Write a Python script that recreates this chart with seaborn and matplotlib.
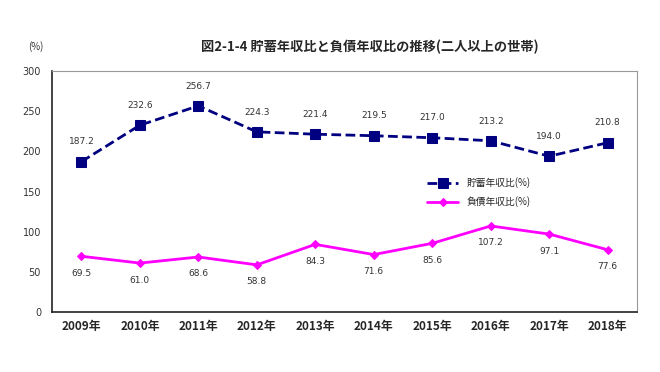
import matplotlib
matplotlib.use("Agg")
import matplotlib.pyplot as plt
import seaborn as sns
import pandas as pd
import numpy as np

years = ["2009年", "2010年", "2011年", "2012年", "2013年", "2014年", "2015年", "2016年", "2017年", "2018年"]
savings = [187.2, 232.6, 256.7, 224.3, 221.4, 219.5, 217.0, 213.2, 194.0, 210.8]
debt = [69.5, 61.0, 68.6, 58.8, 84.3, 71.6, 85.6, 107.2, 97.1, 77.6]
savings_name = "貯蓄年収比(%)"
debt_name = "負債年収比(%)"
title = "図2-1-4 貯蓄年収比と負債年収比の推移(二人以上の世帯)"

sns.set_theme(style="white")
plt.rcParams['font.family'] = ['Noto Sans CJK JP', 'DejaVu Sans']

fig = plt.figure(figsize=(6.6, 3.72), dpi=100)
ax = fig.add_axes([0.079, 0.161, 0.886, 0.648])

x = np.arange(len(years))
df = pd.DataFrame({"x": np.concatenate([x, x]),
                   "v": savings + debt,
                   "s": [savings_name] * len(x) + [debt_name] * len(x)})

sns.lineplot(data=df[df.s == savings_name], x="x", y="v", ax=ax, color="#000080",
             linestyle=(0, (3.5, 1.6)), linewidth=2, marker="s", markersize=6.5,
             markeredgecolor="#000080", label=savings_name)
sns.lineplot(data=df[df.s == debt_name], x="x", y="v", ax=ax, color="#FF00FF",
             linewidth=2, marker="D", markersize=4.5,
             markeredgecolor="#FF00FF", label=debt_name)

for i, v in enumerate(savings):
    ax.annotate(f"{v:.1f}", (i, v), xytext=(0, 11), textcoords="offset points",
                ha="center", va="bottom", fontsize=6.5, color="#333333", family="DejaVu Sans")
for i, v in enumerate(debt):
    ax.annotate(f"{v:.1f}", (i, v), xytext=(0, -9), textcoords="offset points",
                ha="center", va="top", fontsize=6.5, color="#333333", family="DejaVu Sans")

ax.set_xlim(-0.5, len(years) - 0.5)
ax.set_ylim(0, 300)
ax.set_yticks(range(0, 301, 50))
ax.set_yticklabels([str(t) for t in range(0, 301, 50)], fontsize=7, family="DejaVu Sans", color="#333333")
ax.set_xticks(x)
ax.set_xticklabels(years, fontsize=8.5, fontweight="bold")
ax.tick_params(axis="x", which="major", length=0, pad=6)
ax.tick_params(axis="y", length=0, pad=8)
ax.set_xticks(np.arange(0.5, len(years) - 1, 1), minor=True)
ax.tick_params(axis="x", which="minor", direction="in", length=4, width=1, color="#222222")
ax.set_xlabel("")
ax.set_ylabel("")

for side in ["left", "bottom"]:
    ax.spines[side].set_color("#222222")
    ax.spines[side].set_linewidth(1.2)
for side in ["top", "right"]:
    ax.spines[side].set_color("#999999")
    ax.spines[side].set_linewidth(0.8)

leg = ax.legend(loc="upper left", bbox_to_anchor=(0.635, 0.575), frameon=False,
                fontsize=7, handlelength=3.2, labelspacing=0.8, borderaxespad=0)

fig.text(0.56, 0.875, title, ha="center", va="center", fontsize=9.5, fontweight="bold")
fig.text(0.055, 0.875, "(%)", ha="center", va="center", fontsize=7, color="#333333")

fig.savefig("out.png", dpi=100)
